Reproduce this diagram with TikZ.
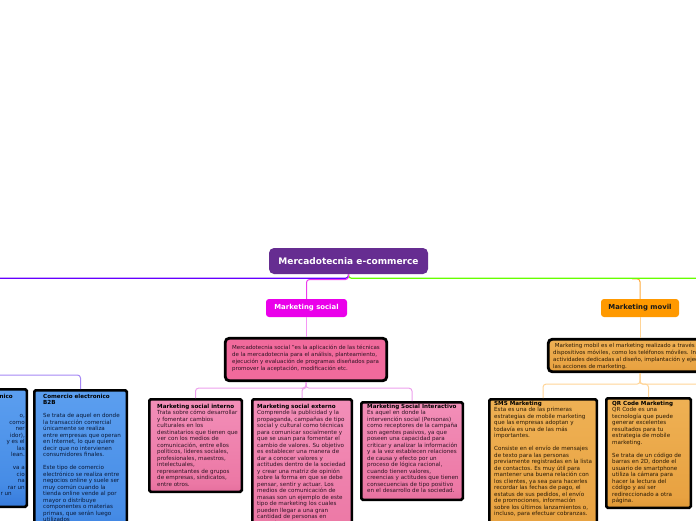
\documentclass[tikz,border=0pt]{standalone}
\usepackage{fontspec}
\setmainfont{DejaVu Sans}
\definecolor{rootc}{RGB}{102,45,145}
\definecolor{violetl}{RGB}{102,0,255}
\definecolor{greenl}{RGB}{102,255,0}
\definecolor{magc}{RGB}{234,0,234}
\definecolor{magl}{RGB}{236,60,236}
\definecolor{maglight}{RGB}{245,150,245}
\definecolor{pkline}{RGB}{236,160,236}
\definecolor{orc}{RGB}{255,153,0}
\definecolor{orl}{RGB}{255,170,60}
\definecolor{orlight}{RGB}{255,212,150}
\definecolor{lvline}{RGB}{165,135,245}
\definecolor{pkdef}{RGB}{241,106,156}
\definecolor{pkT}{RGB}{246,155,195}
\definecolor{pkM}{RGB}{236,120,165}
\definecolor{pkD}{RGB}{214,88,140}
\definecolor{pkB}{RGB}{228,112,160}
\definecolor{orT}{RGB}{242,185,95}
\definecolor{orM}{RGB}{232,162,65}
\definecolor{orD}{RGB}{200,128,25}
\definecolor{orB}{RGB}{218,150,50}
\definecolor{blT}{RGB}{105,170,245}
\definecolor{blM}{RGB}{70,140,230}
\definecolor{blD}{RGB}{35,100,205}
\definecolor{blB}{RGB}{50,120,215}
\definecolor{pktext}{RGB}{45,20,35}
\definecolor{ortext}{RGB}{40,25,5}
\definecolor{bltext}{RGB}{10,25,55}
\pgfdeclareverticalshading{pinkgloss}{100bp}{color(0bp)=(pkB); color(12bp)=(pkD); color(30bp)=(pkM); color(100bp)=(pkT)}
\pgfdeclareverticalshading{orgloss}{100bp}{color(0bp)=(orB); color(12bp)=(orD); color(30bp)=(orM); color(100bp)=(orT)}
\pgfdeclareverticalshading{bluegloss}{100bp}{color(0bp)=(blB); color(12bp)=(blD); color(35bp)=(blM); color(100bp)=(blT)}
\begin{document}
\begin{tikzpicture}[x=1pt,y=-1pt,
  leaf/.style={rectangle, draw=black, line width=2.5pt, rounded corners=1.5pt, inner sep=0pt},
  defbox/.style={rectangle, draw=black, line width=2.8pt, rounded corners=4pt, inner sep=0pt},
  topic/.style={rectangle, rounded corners=3pt, inner sep=0pt, font=\fontsize{6.9}{8}\selectfont\bfseries},
  body/.style={anchor=north west, inner sep=0pt, align=left, font=\fontsize{5.6}{6.5}\selectfont},
  defbody/.style={anchor=north west, inner sep=0pt, align=left, font=\fontsize{5.5}{7}\selectfont},
  conn/.style={line width=1pt, rounded corners=3pt}
]
\useasboundingbox (0,0) rectangle (696,520);
\clip (0,0) rectangle (696,520);

% nodes
\node[rectangle, rounded corners=5pt, fill=rootc, text=white, minimum width=159pt, minimum height=26pt, inner sep=0pt, font=\fontsize{9}{10}\selectfont\bfseries] (root) at (348.5,261) {Mercadotecnia e-commerce};
\node[topic, fill=magc, text=white, minimum width=81pt, minimum height=18pt] (social) at (306.5,308) {Marketing social};
\node[topic, fill=orc, text=black!90, minimum width=78pt, minimum height=18pt] (movil) at (640,308) {Marketing movil};

\node[defbox, fill=pkdef, minimum width=161.5pt, minimum height=42.5pt] (sdef) at (306,359.5) {};
\node[defbox, shade, shading=orgloss, minimum width=183.5pt, minimum height=32.5pt] (mdef) at (640,355.5) {};

\node[leaf, shade, shading=pinkgloss, minimum width=92.5pt, minimum height=92.5pt] (interno) at (195.5,445.5) {};
\node[leaf, shade, shading=pinkgloss, minimum width=99.5pt, minimum height=144.5pt] (externo) at (302,471.5) {};
\node[leaf, shade, shading=pinkgloss, minimum width=101.5pt, minimum height=97.5pt] (interactivo) at (412,451) {};
\node[leaf, shade, shading=orgloss, minimum width=107.5pt, minimum height=139.5pt] (sms) at (543,469) {};
\node[leaf, shade, shading=orgloss, minimum width=84.5pt, minimum height=109.5pt] (qr) at (648.5,453) {};
\node[leaf, shade, shading=bluegloss, minimum width=92.5pt, minimum height=153.5pt] (b2b) at (80.5,467) {};
\node[leaf, shade, shading=bluegloss, minimum width=95.5pt, minimum height=117.5pt] (b2c) at (-21,448) {};

% coordinates for free ends
\coordinate (leftend) at (-10,278.3);
\coordinate (rightend) at (710,278.3);
\coordinate (orstart) at (632,278.8);
\coordinate (orright) at (730,400);
\coordinate (lvstart) at (-30,375);

% connectors
\draw[conn, line width=1.2pt, violetl] (root.south) |- (leftend);
\draw[conn, line width=1pt, orl, rounded corners=3pt] (orstart) -| (movil.north);
\draw[conn, line width=1.2pt, greenl] (root.south) |- (rightend);
\draw[conn, magl] (root.south) -- ++(0,5.3) -| (social.north);
\draw[conn, maglight] (social.south) -- (social.south |- sdef.north);
\draw[conn, pkline] (sdef.south) -- ++(0,6) -| (interno.north);
\draw[conn, pkline] (sdef.south) -- ++(0,6) -| (externo.north);
\draw[conn, pkline] (sdef.south) -- ++(0,6) -| (interactivo.north);
\draw[conn, orlight] (movil.south) -- (mdef.north);
\draw[conn, orlight] (mdef.south) -- ++(0,11) -| (sms.north);
\draw[conn, orlight] (mdef.south) -- ++(0,11) -| (qr.north);
\draw[conn, orlight] (mdef.south) -- ++(0,11) -| (orright);
\draw[conn, lvline] (lvstart) -| (b2b.north);

% texts
\node[defbody, text=pktext] (sdeftxt) at (232,345) {Mercadotecnia social "es la aplicación de las técnicas\\de la mercadotecnia para el análisis, planteamiento,\\ejecución y evaluación de programas diseñados para\\promover la aceptación, modificación etc.};
\node[defbody, text=ortext, font=\fontsize{5.5}{6.8}\selectfont] (mdeftxt) at (553,343) {\ Marketing mobil es el marketing realizado a través de\\dispositivos móviles, como los teléfonos móviles. Incluye\\actividades dedicadas al diseño, implantación y ejecución de\\las acciones de marketing.};

\node[body, text=pktext] (internotxt) at (157,404) {\textbf{\color{black}Marketing social interno}\\Trata sobre cómo desarrollar\\y fomentar cambios\\culturales en los\\destinatarios que tienen que\\ver con los medios de\\comunicación, entre ellos\\políticos, líderes sociales,\\profesionales, maestros,\\intelectuales,\\representantes de grupos\\de empresas, sindicatos,\\entre otros.};

\node[body, text=pktext] (externotxt) at (257,404) {\textbf{\color{black}Marketing social externo}\\Comprende la publicidad y la\\propaganda, campañas de tipo\\social y cultural como técnicas\\para comunicar socialmente y\\que se usan para fomentar el\\cambio de valores. Su objetivo\\es establecer una manera de\\dar a conocer valores y\\actitudes dentro de la sociedad\\y crear una matriz de opinión\\sobre la forma en que se debe\\pensar, sentir y actuar. Los\\medios de comunicación de\\masas son un ejemplo de este\\tipo de marketing los cuales\\pueden llegar a una gran\\cantidad de personas en\\poco tiempo.};

\node[body, text=pktext] (interactivotxt) at (367,404) {\textbf{\color{black}Marketing Social Interactivo}\\Es aquel en donde la\\intervención social (Personas)\\como receptores de la campaña\\son agentes pasivos, ya que\\poseen una capacidad para\\criticar y analizar la información\\y a la vez establecen relaciones\\de causa y efecto por un\\proceso de lógica racional,\\cuando tienen valores,\\creencias y actitudes que tienen\\consecuencias de tipo positivo\\en el desarrollo de la sociedad.};

\node[body, text=ortext] (smstxt) at (494,401) {\textbf{\color{black}SMS Marketing}\\Esta es una de las primeras\\estrategias de mobile marketing\\que las empresas adoptan y\\todavía es una de las más\\importantes.\\\mbox{}\\Consiste en el envío de mensajes\\de texto para las personas\\previamente registradas en la lista\\de contactos. Es muy útil para\\mantener una buena relación con\\los clientes, ya sea para hacerles\\recordar las fechas de pago, el\\estatus de sus pedidos, el envío\\de promociones, información\\sobre los últimos lanzamientos o,\\incluso, para efectuar cobranzas.};

\node[body, text=ortext] (qrtxt) at (612,401) {\textbf{\color{black}QR Code Marketing}\\QR Code es una\\tecnología que puede\\generar excelentes\\resultados para tu\\estrategia de mobile\\marketing.\\\mbox{}\\Se trata de un código de\\barras en 2D, donde el\\usuario de smartphone\\utiliza la cámara para\\hacer la lectura del\\código y así ser\\redireccionado a otra\\página.};

\node[body, text=bltext] (b2btxt) at (43,394) {\textbf{\color{black}Comercio electronico}\\\textbf{\color{black}B2B}\\\mbox{}\\Se trata de aquel en donde\\la transacción comercial\\únicamente se realiza\\entre empresas que operan\\en Internet, lo que quiere\\decir que no intervienen\\consumidores finales.\\\mbox{}\\Este tipo de comercio\\electrónico se realiza entre\\negocios online y suele ser\\muy común cuando la\\tienda online vende al por\\mayor o distribuye\\componentes o materias\\primas, que serán luego\\utilizados};

\node[body, text=bltext, anchor=north east, align=right] (b2ctxt) at (25,394) {\textbf{\color{black}nico}\hspace*{12pt}\\\mbox{}\\\mbox{}\\o,\hspace*{19pt}\\como\hspace*{12pt}\\ner\hspace*{14pt}\\idor),\hspace*{4pt}\\y es el\\las\hspace*{15pt}\\lean.\hspace*{12pt}\\\mbox{}\\va a\hspace*{14pt}\\cio\hspace*{17pt}\\na\hspace*{18pt}\\rar un\\r un\hspace*{13pt}};
\end{tikzpicture}
\end{document}
